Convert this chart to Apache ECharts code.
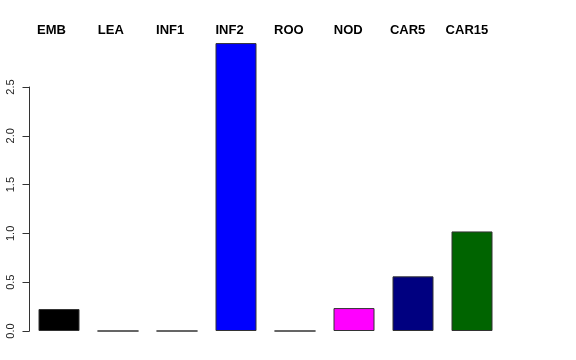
<!DOCTYPE html>
<html><head><meta charset="utf-8">
<script src="https://cdn.jsdelivr.net/npm/echarts@6/dist/echarts.min.js"></script>
<style>html,body{margin:0;padding:0;background:#fff}#c{width:576px;height:360px}</style>
</head><body><div id="c"></div>
<script>
const categories = ['EMB','LEA','INF1','INF2','ROO','NOD','CAR5','CAR15'];
const values = [0.225, 0, 0, 2.95, 0, 0.235, 0.56, 1.02];
const colors = ['#000000','#808080','#2e4a2e','#0000FF','#808080','#FF00FF','#000080','#006400'];
const yTicks = [0, 0.5, 1.0, 1.5, 2.0, 2.5];

const chart = echarts.init(document.getElementById('c'), null, {renderer:'canvas'});
const font = 'Liberation Sans, Arial, Helvetica, sans-serif';
chart.setOption({
  animation:false,
  backgroundColor:'#fff',
  grid:[
    {left:29.5, right:74.5, top:38.2, bottom:29},
    {left:29.5, right:74.5, top:87, bottom:29},
    {left:21.8, right:79.4, top:38.2, bottom:29}
  ],
  xAxis:[
    {gridIndex:0, type:'category', data:categories, show:false},
    {gridIndex:1, type:'category', data:categories, show:false},
    {gridIndex:2, type:'category', data:categories, position:'top',
     axisLine:{show:false}, axisTick:{show:false},
     axisLabel:{margin:1, fontFamily:font, fontWeight:'bold', fontSize:13, color:'#000'}}
  ],
  yAxis:[
    {gridIndex:0, type:'value', min:0, max:3, show:false},
    {gridIndex:1, type:'value', min:yTicks[0], max:yTicks[yTicks.length-1], interval:0.5,
     axisLine:{show:true, lineStyle:{color:'#333', width:1}},
     axisTick:{show:true, length:7, lineStyle:{color:'#333'}},
     splitLine:{show:false},
     axisLabel:{rotate:90, margin:13, fontFamily:font, fontSize:11, color:'#222',
       formatter:v=>v.toFixed(1)}},
    {gridIndex:2, type:'value', show:false}
  ],
  series:[{
    type:'bar', xAxisIndex:0, yAxisIndex:0, barWidth:41,
    data:values.map((v,i)=>({value:v, itemStyle:{color:colors[i]}})),
    itemStyle:{borderColor:'#333', borderWidth:1}
  }]
});
</script></body></html>
